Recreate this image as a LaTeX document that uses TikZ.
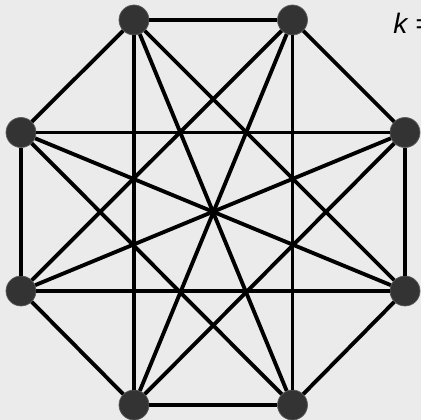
\documentclass[tikz,border=0pt]{standalone}
\usepackage{fontspec}
\setmainfont{Liberation Sans}
\usepackage{xcolor}
\definecolor{bgGray}{RGB}{235, 235, 235}
\definecolor{vertDark}{RGB}{51, 51, 51}

\begin{document}
\begin{tikzpicture}[
    % 1 px of the 421x420 frame = 0.02 cm
    vert/.style={circle, draw=vertDark!80, fill=vertDark, line width=0.4pt,
                 minimum size=0.6cm, inner sep=0pt},
    edge/.style={line width=2.2pt, black},
    lbl/.style={font=\fontsize{16}{18}\selectfont\itshape, anchor=west,
                inner sep=0pt}
  ]

  % ── Frame and background ────────────────────────────────────────────────
  \fill[bgGray] (0, 0) rectangle (8.42, 8.40);
  \useasboundingbox (0, 0) rectangle (8.42, 8.40);

  % ── Eight vertices on the octagon (clockwise from top left) ─────────────
  \node[vert] (v1) at (2.68, 8.00) {};
  \node[vert] (v2) at (5.85, 8.00) {};
  \node[vert] (v3) at (8.10, 5.75) {};
  \node[vert] (v4) at (8.10, 2.58) {};
  \node[vert] (v5) at (5.85, 0.30) {};
  \node[vert] (v6) at (2.68, 0.30) {};
  \node[vert] (v7) at (0.42, 2.58) {};
  \node[vert] (v8) at (0.42, 5.75) {};

  % Label, cut off by the right edge
  \node[lbl] (klbl) at (7.86, 7.94) {k =};

  % ── Edges: octagon sides ────────────────────────────────────────────────
  \draw[edge] (v1) -- (v2);
  \draw[edge] (v2) -- (v3);
  \draw[edge] (v3) -- (v4);
  \draw[edge] (v4) -- (v5);
  \draw[edge] (v5) -- (v6);
  \draw[edge] (v6) -- (v7);
  \draw[edge] (v7) -- (v8);
  \draw[edge] (v8) -- (v1);

  % ── Edges: three steps round ────────────────────────────────────────────
  \draw[edge] (v1) -- (v4);
  \draw[edge] (v2) -- (v5);
  \draw[edge] (v3) -- (v6);
  \draw[edge] (v4) -- (v7);
  \draw[edge] (v5) -- (v8);
  \draw[edge] (v6) -- (v1);
  \draw[edge] (v7) -- (v2);
  \draw[edge] (v8) -- (v3);

  % ── Edges: long diagonals through the centre ────────────────────────────
  \draw[edge] (v1) -- (v5);
  \draw[edge] (v2) -- (v6);
  \draw[edge] (v3) -- (v7);
  \draw[edge] (v4) -- (v8);

\end{tikzpicture}
\end{document}
